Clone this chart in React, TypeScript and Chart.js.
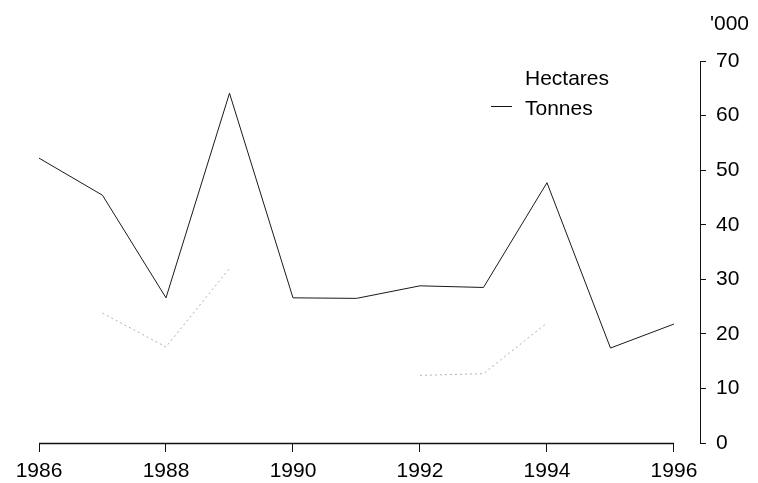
import React, { useEffect, useRef } from "react";
import { Chart, registerables } from "chart.js";

Chart.register(...registerables);

const years = [1986, 1987, 1988, 1989, 1990, 1991, 1992, 1993, 1994, 1995, 1996];
const tonnes = [52.2, 45.4, 26.6, 64.1, 26.6, 26.5, 28.8, 28.5, 47.7, 17.4, 21.8];
const hectares = [null, 23.8, 17.6, 32.0, null, null, 12.4, 12.7, 22.0, null, null];
const xTickYears = [1986, 1988, 1990, 1992, 1994, 1996];
const yTicks = [0, 10, 20, 30, 40, 50, 60, 70];
const seriesNames = ["Hectares", "Tonnes"];
const unitLabel = "'000";

const FONT = "'Liberation Sans', Arial, sans-serif";

const overlay = {
  id: "overlay",
  afterDraw(chart: any) {
    const ctx = chart.ctx;
    const xs = chart.scales.x;
    const ys = chart.scales.y;
    ctx.save();
    // x axis line from first to last year
    ctx.strokeStyle = "#111";
    ctx.lineWidth = 1.5;
    ctx.beginPath();
    const y0 = Math.round(ys.getPixelForValue(0)) + 0.5;
    ctx.moveTo(xs.getPixelForValue(years[0]), y0);
    ctx.lineTo(xs.getPixelForValue(years[years.length - 1]), y0);
    ctx.stroke();
    // unit label
    ctx.fillStyle = "#000";
    ctx.font = `21px ${FONT}`;
    ctx.textBaseline = "middle";
    ctx.textAlign = "left";
    ctx.fillText(unitLabel, ys.left + 10, 24);
    // legend
    ctx.font = `21px ${FONT}`;
    ctx.textBaseline = "alphabetic";
    ctx.fillText(seriesNames[0], 525, 85);
    ctx.fillText(seriesNames[1], 525, 115);
    ctx.strokeStyle = "#111";
    ctx.lineWidth = 1;
    ctx.beginPath();
    ctx.moveTo(491, 106.5);
    ctx.lineTo(512, 106.5);
    ctx.stroke();
    ctx.restore();
  },
};

export default function App() {
  const ref = useRef<HTMLCanvasElement | null>(null);
  useEffect(() => {
    if (!ref.current) return;
    const chart = new Chart(ref.current, {
      type: "line",
      data: {
        datasets: [
          {
            label: seriesNames[0],
            data: years.map((y, i) => ({ x: y, y: hectares[i] as any })),
            borderColor: "#b0b0b0",
            borderWidth: 1,
            borderDash: [2, 3],
            pointRadius: 0,
            spanGaps: false,
            tension: 0,
          },
          {
            label: seriesNames[1],
            data: years.map((y, i) => ({ x: y, y: tonnes[i] })),
            borderColor: "#1a1a1a",
            borderWidth: 1,
            pointRadius: 0,
            tension: 0,
          },
        ],
      },
      options: {
        animation: false,
        responsive: false,
        events: [],
        layout: { padding: { left: 39, top: 61, right: 0, bottom: 0 } },
        plugins: { legend: { display: false }, tooltip: { enabled: false } },
        scales: {
          x: {
            type: "linear",
            min: 1986,
            max: 1996.41,
            afterFit: (s: any) => {
              s.height = 40;
            },
            afterBuildTicks: (s: any) => {
              s.ticks = xTickYears.map((v) => ({ value: v }));
            },
            border: { display: false },
            grid: {
              display: true,
              drawOnChartArea: false,
              drawTicks: true,
              tickLength: 9,
              color: "#111",
              lineWidth: 1,
            },
            ticks: {
              includeBounds: false,
              stepSize: 2,
              padding: 7,
              color: "#000",
              font: { family: FONT, size: 21 },
              maxRotation: 0,
              callback: (v: any) => String(v),
            },
          },
          y: {
            position: "right",
            min: 0,
            max: 70,
            afterFit: (s: any) => {
              s.width = 58;
            },
            afterBuildTicks: (s: any) => {
              s.ticks = yTicks.map((v) => ({ value: v }));
            },
            border: { display: true, color: "#111", width: 1 },
            grid: {
              display: true,
              drawOnChartArea: false,
              drawTicks: true,
              tickLength: 6,
              color: "#111",
              lineWidth: 1,
            },
            ticks: {
              padding: 10,
              color: "#000",
              font: { family: FONT, size: 21 },
              callback: (v: any) => String(v),
            },
          },
        },
      },
      plugins: [overlay],
    });
    return () => chart.destroy();
  }, []);
  return (
    <div style={{ position: "fixed", left: 0, top: 0, width: 758, height: 483, background: "#fff" }}>
      <canvas ref={ref} width={758} height={483} style={{ display: "block" }} />
    </div>
  );
}
